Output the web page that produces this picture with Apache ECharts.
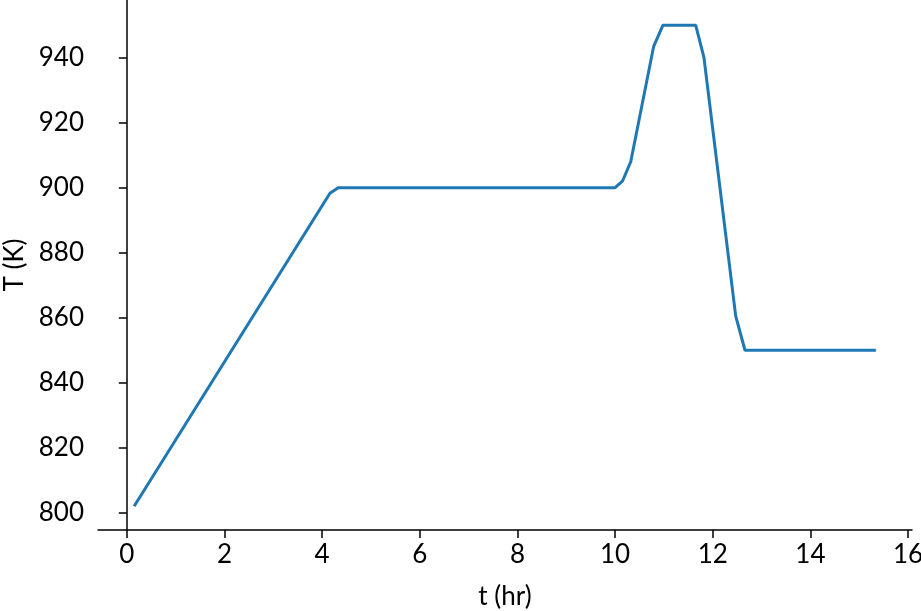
<!DOCTYPE html>
<html><head><meta charset="utf-8">
<script src="https://cdn.jsdelivr.net/npm/echarts@6/dist/echarts.min.js"></script>
<style>html,body{margin:0;padding:0;background:#fff}#c{width:921px;height:611px}</style>
</head><body><div id="c"></div>
<script>
const timeHr = [0.15, 4.16, 4.33, 10.0, 10.15, 10.32, 10.79, 10.98, 11.65, 11.82, 12.47, 12.66, 15.34];
const tempK  = [802, 898.3, 900, 900, 902, 908, 943.5, 950, 950, 940, 860.5, 850, 850];
const xTicks = [0, 2, 4, 6, 8, 10, 12, 14, 16];
const yTicks = [800, 820, 840, 860, 880, 900, 920, 940];

const font = 'Lato, "Open Sans", sans-serif';
const chart = echarts.init(document.getElementById('c'));
chart.setOption({
  animation: false,
  grid: {left: 98, right: 9, top: 0, bottom: 81, containLabel: false, outerBoundsMode: 'none'},
  xAxis: {
    type: 'value', min: -0.59, max: 16.08,
    name: 't (hr)', nameLocation: 'middle', nameGap: 54,
    nameTextStyle: {fontFamily: font, fontSize: 26, color: '#000'},
    axisLine: {lineStyle: {color: '#000', width: 1.5}},
    axisTick: {show: true, length: 8, lineStyle: {color: '#000', width: 1.5}, customValues: xTicks},
    axisLabel: {fontFamily: font, fontSize: 26, color: '#000', margin: 12, customValues: xTicks},
    splitLine: {show: false}
  },
  yAxis: {
    type: 'value', min: 794.7, max: 957.75,
    name: 'T (K)', nameLocation: 'middle', nameGap: 70, nameRotate: 90,
    nameTextStyle: {fontFamily: font, fontSize: 26, color: '#000'},
    axisLine: {show: true, lineStyle: {color: '#000', width: 1.5}},
    axisTick: {show: true, length: 8, lineStyle: {color: '#000', width: 1.5}, customValues: yTicks},
    axisLabel: {fontFamily: font, fontSize: 26, color: '#000', margin: 14, customValues: yTicks},
    splitLine: {show: false}
  },
  series: [{
    type: 'line',
    data: timeHr.map((t, i) => [t, tempK[i]]),
    showSymbol: false,
    lineStyle: {color: '#1f77b4', width: 3},
    clip: false
  }]
});
</script></body></html>
